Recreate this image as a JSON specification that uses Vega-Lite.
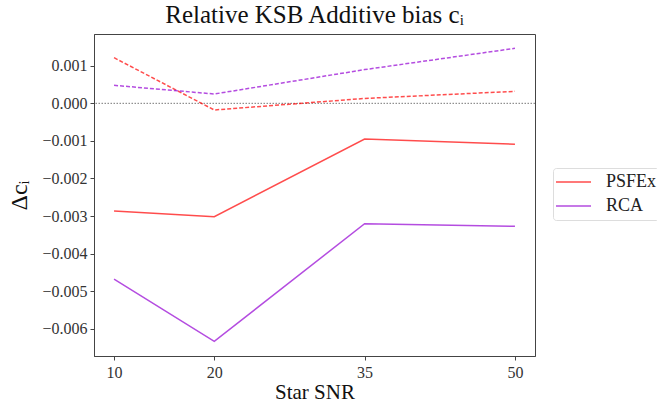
{
  "$schema": "https://vega.github.io/schema/vega-lite/v6.json",
  "width": 441,
  "height": 322,
  "autosize": {"type": "none"},
  "padding": {"left": 94, "top": 34, "right": 122, "bottom": 47},
  "background": "white",
  "title": {
    "text": "Relative KSB Additive bias cᵢ",
    "font": "Liberation Serif",
    "fontSize": 25,
    "fontWeight": "normal",
    "color": "#111",
    "anchor": "middle",
    "offset": 6
  },
  "config": {
    "view": {"stroke": "#444", "strokeWidth": 1},
    "axis": {
      "labelFont": "Liberation Serif",
      "labelFontSize": 16,
      "labelColor": "#333",
      "titleFont": "Liberation Serif",
      "titleFontWeight": "normal",
      "titleColor": "#111",
      "domainColor": "#444",
      "tickColor": "#444",
      "tickSize": 4,
      "grid": false
    }
  },
  "data": {
    "values": [
      {"snr": 10, "value": -0.002867, "method": "PSFEx", "kind": "solid"},
      {"snr": 20, "value": -0.003018, "method": "PSFEx", "kind": "solid"},
      {"snr": 35, "value": -0.00095, "method": "PSFEx", "kind": "solid"},
      {"snr": 50, "value": -0.00109, "method": "PSFEx", "kind": "solid"},
      {"snr": 10, "value": -0.004677, "method": "RCA", "kind": "solid"},
      {"snr": 20, "value": -0.006335, "method": "RCA", "kind": "solid"},
      {"snr": 35, "value": -0.003205, "method": "RCA", "kind": "solid"},
      {"snr": 50, "value": -0.003275, "method": "RCA", "kind": "solid"},
      {"snr": 10, "value": 0.001214, "method": "PSFEx", "kind": "dashed"},
      {"snr": 20, "value": -0.000178, "method": "PSFEx", "kind": "dashed"},
      {"snr": 35, "value": 0.00013, "method": "PSFEx", "kind": "dashed"},
      {"snr": 50, "value": 0.000319, "method": "PSFEx", "kind": "dashed"},
      {"snr": 10, "value": 0.000479, "method": "RCA", "kind": "dashed"},
      {"snr": 20, "value": 0.000248, "method": "RCA", "kind": "dashed"},
      {"snr": 35, "value": 0.000897, "method": "RCA", "kind": "dashed"},
      {"snr": 50, "value": 0.001464, "method": "RCA", "kind": "dashed"}
    ]
  },
  "layer": [
    {
      "data": {"values": [{"zero": 0}]},
      "mark": {"type": "rule", "color": "#777", "strokeDash": [1.5, 1.5], "strokeWidth": 1},
      "encoding": {"y": {"field": "zero", "type": "quantitative", "scale": {"domain": [-0.006726, 0.001845]}}}
    },
    {
      "transform": [{"filter": "datum.kind === 'solid'"}],
      "mark": {"type": "line", "strokeWidth": 1.5, "opacity": 0.7},
      "encoding": {
        "x": {
          "field": "snr",
          "type": "quantitative",
          "scale": {"domain": [8, 52], "nice": false, "zero": false},
          "axis": {"values": [10, 20, 35, 50], "title": "Star SNR", "titleFontSize": 21, "titlePadding": 1, "labelPadding": 4}
        },
        "y": {
          "field": "value",
          "type": "quantitative",
          "scale": {"domain": [-0.006726, 0.001845], "nice": false, "zero": false},
          "axis": {"values": [-0.006, -0.005, -0.004, -0.003, -0.002, -0.001, 0, 0.001], "format": ".3f", "title": "Δcᵢ", "titleFontSize": 24, "titlePadding": 10, "labelPadding": 3}
        },
        "color": {
          "field": "method",
          "type": "nominal",
          "scale": {"domain": ["PSFEx", "RCA"], "range": ["#ff0000", "#9400d3"]},
          "legend": {
            "title": null,
            "orient": "none",
            "legendX": 459,
            "legendY": 134,
            "symbolType": "stroke",
            "symbolSize": 1225,
            "symbolStrokeWidth": 1.5,
            "symbolOpacity": 0.7,
            "symbolDash": [],
            "labelFont": "Liberation Serif",
            "labelFontSize": 18,
            "labelColor": "#222",
            "labelOffset": 14,
            "clipHeight": 24,
            "rowPadding": 0,
            "padding": 2,
            "strokeColor": "#ddd",
            "fillColor": "white",
            "cornerRadius": 3
          }
        }
      }
    },
    {
      "transform": [{"filter": "datum.kind === 'dashed'"}],
      "mark": {"type": "line", "strokeDash": [4, 2], "strokeWidth": 1.5, "opacity": 0.7},
      "encoding": {
        "x": {"field": "snr", "type": "quantitative"},
        "y": {"field": "value", "type": "quantitative"},
        "color": {"field": "method", "type": "nominal"}
      }
    }
  ]
}
